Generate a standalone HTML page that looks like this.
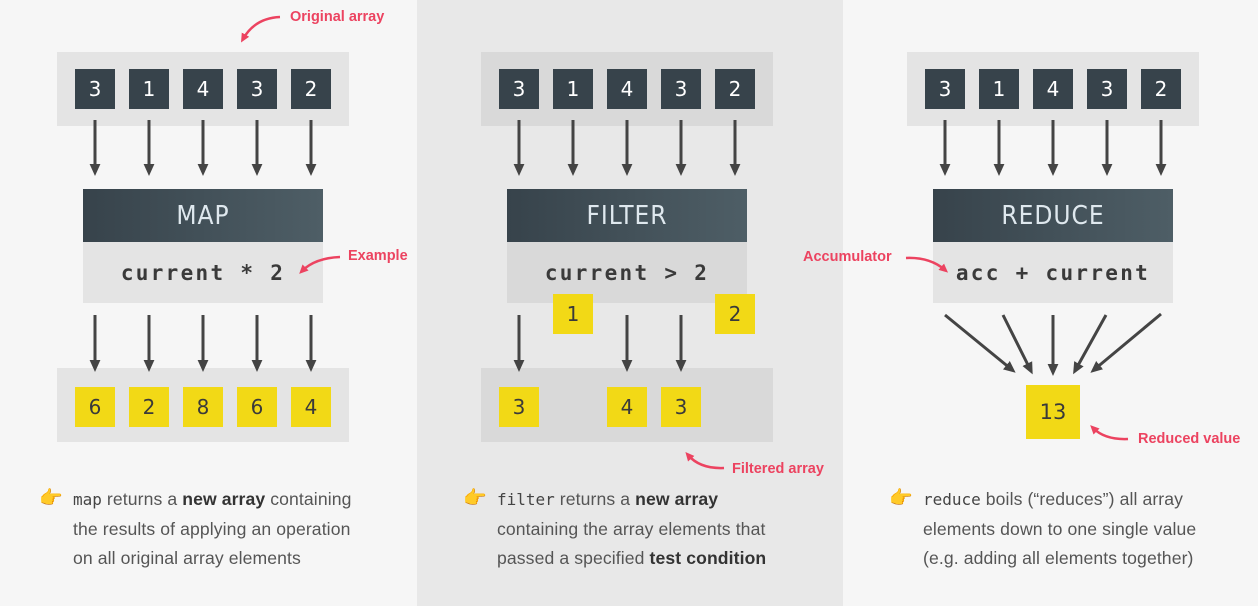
<!DOCTYPE html>
<html><head><meta charset="utf-8">
<style>
body{margin:0;width:1258px;height:606px;background:#f6f6f6;position:relative;overflow:hidden;font-family:"Liberation Sans",sans-serif}
.abs{position:absolute}
.cont{position:absolute;background:#e4e4e4}
.mid .cont{background:#d9d9d9}
.box{position:absolute;width:40px;height:40px;display:flex;align-items:center;justify-content:center;font-family:"DejaVu Sans",sans-serif;font-size:20px}
.dark{background:#37434b;color:#fff}
.yel{background:#f2d916;color:#3a3a3a;font-family:"DejaVu Sans",sans-serif}
.hdr{position:absolute;width:240px;height:53px;background:linear-gradient(90deg,#37434b,#4e5e66);color:#dfe8ee;font-family:"DejaVu Sans Condensed","Liberation Sans Narrow",sans-serif;font-size:26px;display:flex;align-items:center;justify-content:center;letter-spacing:1px}
.code{position:absolute;width:240px;height:61px;background:#e4e4e4;font-family:"DejaVu Sans Mono",monospace;font-weight:bold;font-size:21px;letter-spacing:2.3px;color:#3a3a3a;display:flex;align-items:center;justify-content:center;white-space:pre}
.mid .code{background:#d9d9d9}
.ann{position:absolute;color:#ec4360;font-size:14.5px;font-weight:bold;font-family:"Liberation Sans",sans-serif}
.txt{position:absolute;font-size:17.6px;color:#555;line-height:29.5px;white-space:nowrap;letter-spacing:0.1px}
.txt code{font-family:"DejaVu Sans Mono",monospace;font-size:16px;color:#444;letter-spacing:0}
.txt b{color:#333}
.hand{position:absolute;font-size:19px;color:#e8a820}
</style></head><body>
<div class="abs" style="left:417px;top:0;width:426px;height:606px;background:#e8e8e8"></div>
<div id="root"></div>
<svg class="abs" style="left:0;top:0" width="1258" height="606" id="arrows">
<defs><marker id="ah" markerWidth="4" markerHeight="4" refX="2" refY="2" orient="auto" markerUnits="strokeWidth"><path d="M0,0.2 L4,2 L0,3.8 Z" fill="#444"/></marker>
<marker id="rh" markerWidth="4" markerHeight="4" refX="2" refY="2" orient="auto" markerUnits="strokeWidth"><path d="M0,0.3 L3.6,2 L0,3.7 Z" fill="#ec4360"/></marker></defs>
<g stroke="#ec4360" stroke-width="2.5" fill="none" marker-end="url(#rh)">
<path d="M280,17 Q255,18 243,39"/>
<path d="M340,257 Q315,258 302,271"/>
<path d="M906,258 Q930,257 945,270"/>
<path d="M1128,439 Q1105,440 1093,428"/>
<path d="M724,468 Q700,469 688,455"/>
</g>
</svg>
<div class="ann" style="left:290px;top:9px">Original array</div>
<div class="ann" style="left:348px;top:248px">Example</div>
<div class="ann" style="left:803px;top:249px">Accumulator</div>
<div class="ann" style="left:1138px;top:431px">Reduced value</div>
<div class="ann" style="left:732px;top:461px">Filtered array</div>

<div class="hand" style="left:39px;top:486px">👉</div>
<div class="txt" style="left:73px;top:485px"><code>map</code> returns a <b>new array</b> containing<br>the results of applying an operation<br>on all original array elements</div>
<div class="hand" style="left:463px;top:486px">👉</div>
<div class="txt" style="left:497px;top:485px"><code>filter</code> returns a <b>new array</b><br>containing the array elements that<br>passed a specified <b>test condition</b></div>
<div class="hand" style="left:889px;top:486px">👉</div>
<div class="txt" style="left:923px;top:485px"><code>reduce</code> boils (“reduces”) all array<br>elements down to one single value<br>(e.g. adding all elements together)</div>

<script>
const inputValues=[3,1,4,3,2];
const mapResults=[6,2,8,6,4];
const filterKept=[3,4,3];
const filterKeptIdx=[0,2,3];
const filterRejected=[1,2];
const filterRejectedIdx=[1,4];
const reduceResult=13;
const panels=[{name:'map',dx:0,title:'MAP',code:'current * 2'},{name:'filter',dx:424,title:'FILTER',code:'current > 2'},{name:'reduce',dx:850,title:'REDUCE',code:'acc + current'}];
const root=document.getElementById('root');
const svg=document.getElementById('arrows');
const NS='http://www.w3.org/2000/svg';
function bx(i,dx){return 75+dx+54*i;}
function div(cls,l,t,w,h,txt){const d=document.createElement('div');d.className=cls;d.style.left=l+'px';d.style.top=t+'px';if(w)d.style.width=w+'px';if(h)d.style.height=h+'px';if(txt!==undefined)d.textContent=txt;root.appendChild(d);return d;}
function arrow(x1,y1,x2,y2){const l=document.createElementNS(NS,'line');l.setAttribute('x1',x1);l.setAttribute('y1',y1);l.setAttribute('x2',x2);l.setAttribute('y2',y2);l.setAttribute('stroke','#444');l.setAttribute('stroke-width','3');l.setAttribute('marker-end','url(#ah)');


svg.appendChild(l);}
panels.forEach(p=>{
  const wrap=document.createElement('div');wrap.className=p.name==='filter'?'mid':'';root.appendChild(wrap);
  const c=div('cont',57+p.dx,52,292,74);
  
  
  wrap.appendChild(c);
  inputValues.forEach((v,i)=>{const b=div('box dark',bx(i,p.dx),69,0,0,v);
    
    
    arrow(bx(i,p.dx)+20,120,bx(i,p.dx)+20,170);});
  const h=div('hdr',83+p.dx,189,0,0,p.title);
  
  
  const cd=div('code',83+p.dx,242,0,0,p.code);
  
  
  wrap.appendChild(cd);
});
const mc=div('cont',57,368,292,74);


mapResults.forEach((v,i)=>{arrow(bx(i,0)+20,315,bx(i,0)+20,366);const b=div('box yel',bx(i,0),387,0,0,v);
  
  });
const fc=div('cont',481,368,292,74);fc.style.background='#d9d9d9';


filterKept.forEach((v,k)=>{const i=filterKeptIdx[k];arrow(bx(i,424)+20,315,bx(i,424)+20,366);const b=div('box yel',bx(i,424),387,0,0,v);
  
  });
filterRejected.forEach((v,k)=>{const i=filterRejectedIdx[k];const b=div('box yel',bx(i,424),294,0,0,v);b.style.left=(i===1?553:715)+'px';
  
  });
const starts=[[945,315],[1003,315],[1053,315],[1106,315],[1161,314]];
const ends=[[1011,369],[1030,369],[1053,370],[1076,369],[1095,369]];
starts.forEach((s,i)=>arrow(s[0],s[1],ends[i][0],ends[i][1]));
const r=div('box yel',1026,385,54,54,reduceResult);r.style.fontSize='21px';


</script>
</body></html>
